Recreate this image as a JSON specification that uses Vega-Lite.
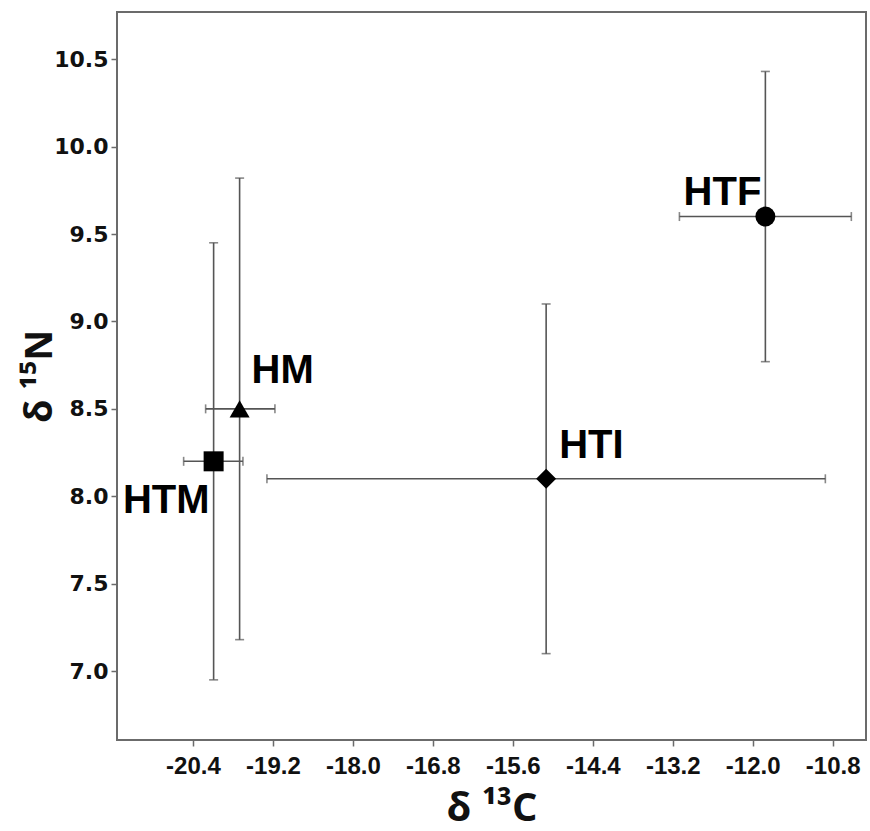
{
  "$schema": "https://vega.github.io/schema/vega-lite/v6.json",
  "autosize": "none",
  "width": 749,
  "height": 728,
  "padding": {"left": 117, "top": 12, "right": 4, "bottom": 91},
  "background": "white",
  "config": {
    "view": {"stroke": "#6b6b6b", "strokeWidth": 2},
    "axis": {"grid": false, "domain": false, "tickColor": "#6b6b6b", "tickSize": 6, "tickWidth": 1.5, "labelColor": "#111", "titleColor": "#111"}
  },
  "data": {
    "values": [
      {"name": "HTF", "x": -11.81, "y": 9.6, "xlo": -13.1, "xhi": -10.52, "ylo": 8.77, "yhi": 10.43},
      {"name": "HM", "x": -19.7, "y": 8.5, "xlo": -20.21, "xhi": -19.17, "ylo": 7.18, "yhi": 9.82},
      {"name": "HTM", "x": -20.09, "y": 8.2, "xlo": -20.54, "xhi": -19.65, "ylo": 6.95, "yhi": 9.45},
      {"name": "HTI", "x": -15.1, "y": 8.1, "xlo": -19.29, "xhi": -10.91, "ylo": 7.1, "yhi": 9.1}
    ]
  },
  "encoding": {
    "x": {"field": "x", "type": "quantitative",
      "scale": {"domain": [-21.54, -10.3], "nice": false, "zero": false},
      "axis": {"values": [-20.4, -19.2, -18.0, -16.8, -15.6, -14.4, -13.2, -12.0, -10.8],
        "labelExpr": "replace(format(datum.value, '.1f'), '\u2212', '-')",
        "labelFont": "Liberation Sans", "labelFontWeight": "bold", "labelFontSize": 24, "labelPadding": 8,
        "title": "δ ¹³C", "titleFont": "Open Sans", "titleFontWeight": "bold", "titleFontSize": 40, "titlePadding": 10}},
    "y": {"field": "y", "type": "quantitative",
      "scale": {"domain": [6.606, 10.77], "nice": false, "zero": false},
      "axis": {"values": [7.0, 7.5, 8.0, 8.5, 9.0, 9.5, 10.0, 10.5], "format": ".1f",
        "labelFont": "DejaVu Sans", "labelFontWeight": "bold", "labelFontSize": 22, "labelPadding": 3,
        "title": "δ ¹⁵N", "titleFont": "Open Sans", "titleFontWeight": "bold", "titleFontSize": 38, "titlePadding": -6}}
  },
  "layer": [
    {"mark": {"type": "rule", "color": "#555", "strokeWidth": 1.6},
     "encoding": {"y": {"field": "ylo", "type": "quantitative"}, "y2": {"field": "yhi"}}},
    {"mark": {"type": "rule", "color": "#555", "strokeWidth": 1.6},
     "encoding": {"x": {"field": "xlo", "type": "quantitative"}, "x2": {"field": "xhi"}}},
    {"mark": {"type": "tick", "orient": "horizontal", "color": "#555", "size": 9, "thickness": 1.6},
     "encoding": {"y": {"field": "ylo", "type": "quantitative"}}},
    {"mark": {"type": "tick", "orient": "horizontal", "color": "#555", "size": 9, "thickness": 1.6},
     "encoding": {"y": {"field": "yhi", "type": "quantitative"}}},
    {"mark": {"type": "tick", "orient": "vertical", "color": "#555", "size": 9, "thickness": 1.6},
     "encoding": {"x": {"field": "xlo", "type": "quantitative"}}},
    {"mark": {"type": "tick", "orient": "vertical", "color": "#555", "size": 9, "thickness": 1.6},
     "encoding": {"x": {"field": "xhi", "type": "quantitative"}}},
    {"mark": {"type": "point", "filled": true, "color": "black", "opacity": 1, "size": 400},
     "encoding": {"shape": {"field": "name", "type": "nominal",
       "scale": {"domain": ["HTF", "HM", "HTM", "HTI"], "range": ["circle", "triangle-up", "square", "diamond"]}, "legend": null}}},
    {"transform": [{"filter": "datum.name == 'HTF'"}],
     "mark": {"type": "text", "font": "Liberation Sans", "fontWeight": "bold", "fontSize": 40, "align": "right", "baseline": "alphabetic", "dx": -4, "dy": -12},
     "encoding": {"text": {"field": "name"}}},
    {"transform": [{"filter": "datum.name == 'HM'"}],
     "mark": {"type": "text", "font": "Liberation Sans", "fontWeight": "bold", "fontSize": 40, "align": "left", "baseline": "alphabetic", "dx": 12, "dy": -26},
     "encoding": {"text": {"field": "name"}}},
    {"transform": [{"filter": "datum.name == 'HTM'"}],
     "mark": {"type": "text", "font": "Liberation Sans", "fontWeight": "bold", "fontSize": 40, "align": "right", "baseline": "alphabetic", "dx": -4, "dy": 52},
     "encoding": {"text": {"field": "name"}}},
    {"transform": [{"filter": "datum.name == 'HTI'"}],
     "mark": {"type": "text", "font": "Liberation Sans", "fontWeight": "bold", "fontSize": 40, "align": "left", "baseline": "alphabetic", "dx": 13, "dy": -21},
     "encoding": {"text": {"field": "name"}}}
  ]
}
